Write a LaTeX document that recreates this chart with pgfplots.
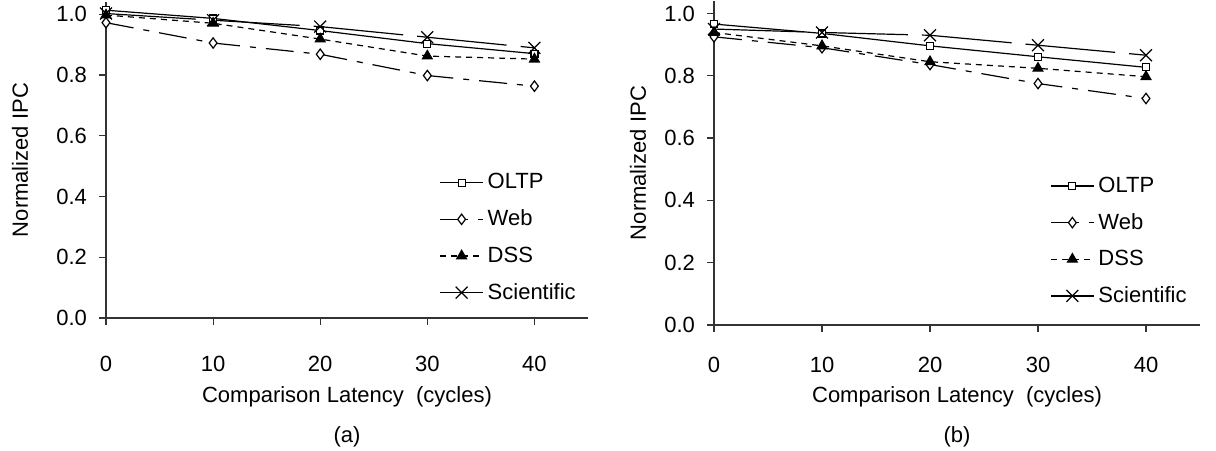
\documentclass[border=0pt]{standalone}
\usepackage{fontspec}
\setmainfont{Liberation Sans}
\usepackage{pgfplots}
\pgfplotsset{compat=1.18}
\usepackage{pgfplotstable}

% normalized IPC vs comparison latency, panel (a)
\pgfplotstableread{
lat  oltp   web    dss    sci
0    1.013  0.972  0.997  1.002
10   0.986  0.905  0.970  0.980
20   0.946  0.868  0.918  0.959
30   0.903  0.798  0.862  0.924
40   0.870  0.763  0.852  0.889
}\tablea

% panel (b)
\pgfplotstableread{
lat  oltp   web    dss    sci
0    0.966  0.925  0.939  0.950
10   0.936  0.890  0.896  0.939
20   0.896  0.836  0.845  0.930
30   0.861  0.775  0.824  0.898
40   0.827  0.727  0.797  0.866
}\tableb

\pgfplotsset{
  ipcaxis/.style={
    scale only axis,
    xmin=0, xmax=45, ymin=0, ymax=1.04,
    xtick={0,10,20,30,40},
    ytick={0,0.2,0.4,0.6,0.8,1.0},
    axis x line=bottom, axis y line=left,
    axis line style={-, black!80, line width=0.6pt},
    tick align=outside, major tick length=3.5pt,
    tick style={black!80, line width=0.6pt},
    clip=false,
    font=\fontsize{11}{13}\selectfont,
    /pgf/number format/assume math mode=true,
    yticklabel style={xshift=-2.5pt,
      /pgf/number format/fixed,
      /pgf/number format/fixed zerofill,
      /pgf/number format/precision=1},
    xlabel={Comparison Latency\ \ (cycles)},
    ylabel={Normalized IPC},
    legend cell align=left,
    legend image code/.code={%
      \draw[mark repeat=2,mark phase=2,##1]
        plot coordinates {(0pt,0pt) (10.75pt,0pt) (21.5pt,0pt)};},
    legend style={draw=none, fill=none, inner sep=0pt,
      anchor=north west, row sep=9pt,
      nodes={inner xsep=2pt, inner ysep=0pt}},
  },
  oltp/.style={black, line width=0.6pt, solid,
    mark=square*, mark size=1.75pt, mark options={fill=white, solid}},
  web/.style={black, line width=0.6pt,
    dash pattern=on 14pt off 5pt on 3pt off 5pt,
    mark=diamond*, mark size=2.6pt, mark options={fill=white, solid}},
  dss/.style={black, line width=0.6pt,
    dash pattern=on 3pt off 2.5pt,
    mark=triangle*, mark size=2.8pt, mark options={fill=black, solid}},
  sci/.style={black, line width=0.6pt,
    dash pattern=on 45pt off 7pt,
    mark=x, mark size=4.2pt, mark options={solid}},
}

\begin{document}
\begin{tikzpicture}
\useasboundingbox (0,0) rectangle (608pt,225pt);

\begin{axis}[ipcaxis,
  at={(53pt,66pt)}, anchor=south west,
  width=241pt, height=158pt,
  xticklabel style={yshift=-12pt},
  xlabel style={at={([yshift=-39.5pt]rel axis cs:0.5,0)}, anchor=center},
  ylabel style={at={([xshift=-43pt]rel axis cs:0,0.5)}, anchor=center},
  legend style={at={(axis cs:31.1,0.477)}},
]
\addplot[oltp] table[x=lat, y=oltp] {\tablea};
\addplot[web]  table[x=lat, y=web]  {\tablea};
\addplot[dss]  table[x=lat, y=dss]  {\tablea};
\addplot[sci]  table[x=lat, y=sci]  {\tablea};
\legend{OLTP, Web, DSS, Scientific}
\node at ([yshift=-59.5pt]rel axis cs:0.5,0) {(a)};
\end{axis}

\begin{axis}[ipcaxis,
  at={(357pt,62.5pt)}, anchor=south west,
  width=243pt, height=162pt,
  xticklabel style={yshift=-9pt},
  xlabel style={at={([yshift=-36pt]rel axis cs:0.5,0)}, anchor=center},
  ylabel style={at={([xshift=-38pt]rel axis cs:0,0.5)}, anchor=center},
  legend style={at={(axis cs:31.1,0.477)}},
]
\addplot[oltp] table[x=lat, y=oltp] {\tableb};
\addplot[web]  table[x=lat, y=web]  {\tableb};
\addplot[dss]  table[x=lat, y=dss]  {\tableb};
\addplot[sci]  table[x=lat, y=sci]  {\tableb};
\legend{OLTP, Web, DSS, Scientific}
\node at ([yshift=-56pt]rel axis cs:0.5,0) {(b)};
\end{axis}
\end{tikzpicture}
\end{document}
